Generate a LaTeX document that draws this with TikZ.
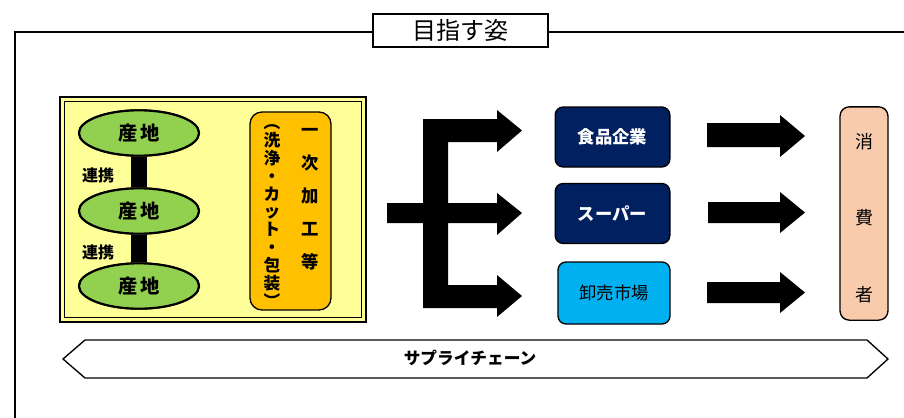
\documentclass[tikz,border=0pt]{standalone}
\usepackage{fontspec}
\setmainfont{Noto Sans CJK JP}
\usetikzlibrary{shapes.geometric}
\definecolor{yel}{HTML}{FFFF99}
\definecolor{grn}{HTML}{92D050}
\definecolor{org}{HTML}{FFC000}
\definecolor{navy}{HTML}{002060}
\definecolor{sky}{HTML}{00B0F0}
\definecolor{peach}{HTML}{F8CBAD}
\tikzset{
  px/.style={x=0.75pt,y=-0.75pt},
  sanchi/.style={ellipse,draw=black,line width=1.6pt,fill=grn,minimum width=90pt,minimum height=34pt,inner sep=0pt,font=\fontsize{14.5}{16}\selectfont\bfseries},
  renkei/.style={font=\fontsize{12}{14}\selectfont\bfseries},
  navybox/.style={draw=black,line width=1pt,rounded corners=6pt,fill=navy,text=white,minimum width=86pt,minimum height=45pt,font=\fontsize{13}{15}\selectfont\bfseries},
  cchar/.style={font=\fontsize{13.5}{15}\selectfont},
  blackarrow/.style={fill=black},
}
\begin{document}
\begin{tikzpicture}[px]
\useasboundingbox (0,0) rectangle (904,418);
% frame
\draw[line width=1.1pt] (904,32) -- (15,32) -- (15,418);
\node[draw=black,fill=white,line width=1.1pt,minimum width=131pt,minimum height=25pt,inner sep=0pt,font=\fontsize{18}{20}\selectfont] (title) at (460.5,30.5) {目指す姿};
% yellow box
\draw[line width=2.2pt,fill=yel] (60,97) rectangle (366,322);
\draw[line width=0.8pt] (64.5,101.5) rectangle (361.5,317.5);
\node[sanchi] (s1) at (139,133) {産\hspace{2pt}地};
\node[sanchi] (s2) at (139,211) {産\hspace{2pt}地};
\node[sanchi] (s3) at (139,286) {産\hspace{2pt}地};
\draw[line width=12.5pt] (s1.south) -- (s2.north);
\draw[line width=12.5pt] (s2.south) -- (s3.north);
\node[sanchi] at (s1) {産\hspace{2pt}地};
\node[sanchi] at (s2) {産\hspace{2pt}地};
\node[sanchi] at (s3) {産\hspace{2pt}地};
\node[renkei] (r1) at (98,175) {連携};
\node[renkei] (r2) at (98,252) {連携};
% orange box
\node[draw=black,line width=1pt,fill=org,rounded corners=9pt,minimum width=60.75pt,minimum height=148.5pt] (proc) at (290.5,211) {};
\node[align=center,font=\fontsize{13}{24.75}\selectfont\bfseries,inner sep=0pt] (proc1) at (310,199) {一\\次\\加\\工\\等};
\node[align=center,font=\fontsize{12.5}{13.4}\selectfont\bfseries,inner sep=0pt] (proc2) at (272,216) {︵\\洗\\浄\\・\\カ\\ッ\\ト\\・\\包\\装\\︶};
% branch arrow
\fill[blackarrow] (387,203) -- (423,203) -- (423,119) -- (497,119) -- (497,110) -- (522,130.5) -- (497,152) -- (497,142) -- (448,142) -- (448,203) -- (497,203) -- (497,193) -- (522,213) -- (497,235) -- (497,223) -- (448,223) -- (448,285) -- (497,285) -- (497,275) -- (522,296) -- (497,317) -- (497,308) -- (423,308) -- (423,223) -- (387,223) -- cycle;
% retail boxes
\node[navybox] (food) at (612.5,137) {食品企業};
\node[navybox] (super) at (612.5,213.5) {スーパー};
\node[navybox,fill=sky,text=black,minimum width=84pt,minimum height=46.5pt,font=\fontsize{13}{15}\selectfont] (market) at (614,293) {卸売市場};
% right arrows
\fill[blackarrow] (707,123) -- (780,123) -- (780,115) -- (805,136) -- (780,157) -- (780,147) -- (707,147) -- cycle;
\fill[blackarrow] (708,202) -- (780,202) -- (780,192) -- (805,212.5) -- (780,233) -- (780,223) -- (708,223) -- cycle;
\fill[blackarrow] (707,282) -- (780,282) -- (780,272) -- (805,292.5) -- (780,313) -- (780,303) -- (707,303) -- cycle;
% consumer
\node[draw=black,line width=1pt,fill=peach,rounded corners=7pt,minimum width=36pt,minimum height=160pt] (cons) at (864,213.5) {};
\node[cchar] (c1) at (864,142) {消};
\node[cchar] (c2) at (864,218) {費};
\node[cchar] (c3) at (864,295) {者};
% supply chain
\draw[line width=1pt] (63,359) -- (85,340) -- (867,340) -- (888,359) -- (867,378) -- (85,378) -- cycle;
\node[font=\fontsize{12.5}{14}\selectfont\bfseries] (sc) at (470,358) {サプライチェーン};
\end{tikzpicture}
\end{document}
